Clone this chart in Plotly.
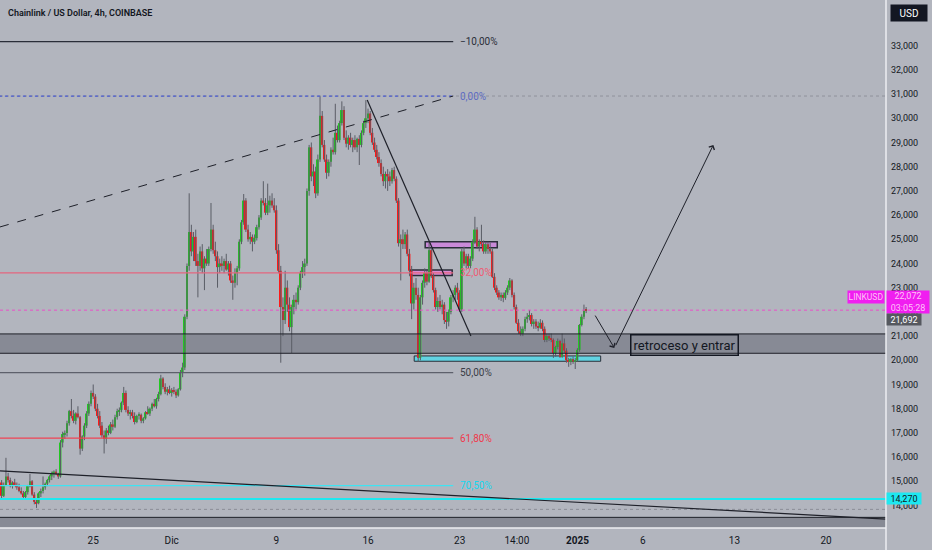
import pandas as pd
import plotly.graph_objects as go

# LINK/USD 4h candles from 18 Nov 2024
first_open = 14.95
closes = [
    14.40, 14.85, 15.20, 15.05, 14.80, 14.95,
    14.85, 14.75, 14.60, 14.50, 14.35, 14.55,
    14.80, 15.00, 14.45, 14.15, 14.10, 14.50,
    14.60, 14.75, 14.90, 15.05, 15.20, 15.30,
    15.40, 15.30, 15.20, 16.60, 16.95, 17.00,
    17.40, 17.90, 17.70, 17.50, 17.80, 17.65,
    16.35, 16.85, 17.30, 17.80, 18.20, 18.65,
    18.50, 18.00, 17.70, 17.30, 16.90, 16.75,
    17.10, 17.00, 17.35, 17.25, 17.65, 17.90,
    17.95, 18.25, 18.65, 17.95, 17.80, 17.85,
    17.70, 17.45, 17.70, 17.75, 17.50, 17.60,
    17.85, 17.80, 18.00, 18.20, 18.10, 18.40,
    18.60, 19.25, 18.90, 18.70, 18.80, 18.65,
    18.75, 18.70, 18.55, 18.80, 19.50, 19.70,
    21.80, 23.90, 25.30, 24.50, 25.10, 24.10,
    23.90, 24.50, 23.80, 24.20, 24.00, 24.60,
    25.40, 24.55, 24.30, 23.85, 24.00, 23.90,
    24.10, 23.75, 24.00, 23.30, 23.20, 23.60,
    23.80, 24.90, 25.70, 26.60, 25.40, 25.00,
    25.10, 24.90, 25.05, 25.50, 25.90, 26.60,
    26.50, 26.10, 26.40, 26.60, 26.40, 26.20,
    24.55, 23.70, 22.20, 21.66, 23.00, 22.30,
    21.37, 22.20, 22.50, 22.40, 23.00, 23.60,
    23.85, 24.00, 27.00, 28.80, 27.60, 27.80,
    26.90, 28.30, 30.10, 28.90, 28.30, 27.75,
    28.20, 28.70, 28.60, 29.40, 29.10, 29.80,
    30.34, 29.20, 28.95, 29.20, 28.90, 29.10,
    28.80, 29.15, 28.90, 29.40, 29.80, 30.00,
    30.20, 29.40, 29.00, 28.70, 28.40, 28.15,
    27.70, 27.40, 27.70, 27.60, 27.40, 27.86,
    27.50, 26.60, 24.84, 25.00, 24.80, 25.20,
    24.40, 23.70, 22.35, 23.00, 22.70, 20.10,
    22.60, 23.20, 23.60, 23.25, 24.55, 23.50,
    22.90, 22.20, 22.45, 22.20, 22.30, 21.66,
    21.60, 22.00, 22.60, 22.70, 23.00, 22.80,
    22.10, 24.50, 24.00, 24.30, 23.90, 24.20,
    24.90, 25.40, 24.70, 24.90, 24.80, 24.50,
    24.80, 24.60, 24.50, 23.45, 23.00, 22.80,
    22.60, 22.70, 22.58, 22.80, 23.00, 23.30,
    22.70, 22.20, 21.55, 21.20, 21.10, 21.30,
    21.70, 21.80, 21.87, 21.50, 21.60, 21.40,
    21.35, 21.55, 21.30, 20.84, 21.00, 20.90,
    20.84, 20.30, 20.55, 20.80, 20.14, 20.70,
    20.40, 20.00, 19.93, 20.05, 19.95, 20.00,
    20.43, 21.46, 21.80, 22.08, 22.07,
]
highs = [
    15.05, 14.95, 15.97, 15.35, 15.15, 15.00,
    15.10, 14.95, 14.90, 14.75, 14.60, 14.60,
    14.85, 15.30, 15.05, 14.55, 14.30, 14.55,
    14.70, 15.20, 14.95, 15.10, 15.25, 15.40,
    15.45, 15.50, 15.35, 16.70, 17.05, 17.10,
    17.50, 17.95, 18.40, 17.95, 17.85, 18.10,
    17.70, 16.90, 17.40, 17.90, 18.30, 18.75,
    19.00, 18.60, 18.20, 17.90, 17.45, 17.10,
    17.20, 17.30, 17.45, 17.55, 17.75, 18.00,
    18.05, 18.30, 18.90, 18.75, 18.10, 17.95,
    17.95, 17.85, 17.75, 17.85, 17.80, 17.65,
    17.90, 18.10, 18.05, 18.25, 18.40, 18.45,
    18.70, 19.40, 19.30, 19.05, 18.90, 18.95,
    18.85, 18.90, 18.80, 18.85, 19.60, 19.90,
    21.90, 24.00, 26.90, 25.60, 25.30, 25.40,
    24.40, 24.70, 24.80, 24.30, 24.60, 24.70,
    26.50, 25.60, 24.90, 24.50, 24.20, 24.30,
    24.20, 24.40, 24.10, 24.10, 23.50, 23.80,
    23.90, 25.00, 25.80, 26.87, 26.70, 25.60,
    25.30, 25.20, 25.20, 25.60, 26.00, 26.70,
    27.40, 26.70, 27.30, 26.80, 26.90, 26.70,
    26.40, 24.80, 23.90, 22.60, 23.70, 23.30,
    22.60, 22.30, 22.70, 22.80, 23.10, 23.70,
    24.10, 24.20, 27.10, 28.90, 29.00, 28.10,
    28.00, 28.50, 30.92, 30.30, 29.10, 28.50,
    28.30, 28.80, 29.20, 30.60, 29.70, 29.90,
    30.70, 30.50, 29.50, 29.30, 29.40, 29.20,
    29.30, 29.20, 29.30, 29.50, 29.90, 30.75,
    30.40, 30.30, 29.60, 29.20, 28.90, 28.60,
    28.30, 28.00, 27.80, 27.90, 27.80, 27.95,
    28.00, 27.60, 26.70, 25.20, 25.40, 25.30,
    25.40, 24.60, 23.90, 23.20, 23.40, 23.00,
    22.70, 23.30, 23.80, 23.70, 24.90, 24.70,
    23.60, 23.00, 22.60, 22.70, 22.50, 22.40,
    22.00, 22.10, 22.70, 22.90, 23.10, 23.20,
    22.90, 24.60, 24.70, 24.40, 24.40, 24.30,
    25.00, 25.93, 25.50, 25.00, 25.60, 24.95,
    24.90, 24.90, 24.85, 24.60, 23.60, 23.10,
    22.90, 22.80, 22.80, 22.90, 23.10, 23.40,
    23.35, 22.80, 22.30, 21.70, 21.40, 21.40,
    21.80, 21.95, 22.08, 21.95, 21.70, 21.70,
    21.60, 21.70, 21.65, 21.40, 21.10, 21.10,
    21.10, 20.90, 20.60, 20.90, 20.85, 21.10,
    20.90, 20.50, 20.10, 20.10, 20.15, 20.10,
    20.50, 21.50, 21.90, 22.30, 22.20,
]
lows = [
    14.30, 14.35, 14.80, 14.95, 14.75, 14.70,
    14.80, 14.65, 14.55, 14.45, 14.25, 14.30,
    14.45, 14.75, 14.40, 14.05, 13.90, 14.05,
    14.35, 14.50, 14.65, 14.80, 14.95, 15.05,
    15.15, 15.25, 15.10, 15.15, 16.40, 16.75,
    16.85, 17.30, 17.60, 17.40, 17.35, 17.60,
    16.10, 16.25, 16.70, 17.20, 17.70, 18.10,
    18.40, 17.90, 17.60, 17.20, 16.80, 16.15,
    16.55, 16.90, 16.95, 17.10, 17.20, 17.55,
    17.70, 17.85, 18.15, 17.85, 17.70, 17.55,
    17.60, 17.35, 17.40, 17.55, 17.40, 17.40,
    17.55, 17.75, 17.70, 17.90, 18.05, 18.00,
    18.30, 18.55, 18.80, 18.60, 18.55, 18.60,
    18.50, 18.60, 18.44, 18.50, 18.75, 19.30,
    19.60, 21.70, 23.70, 24.30, 24.10, 23.90,
    22.60, 23.70, 23.60, 22.90, 23.90, 23.90,
    24.50, 24.40, 24.10, 23.00, 23.60, 23.70,
    23.60, 23.70, 23.50, 23.20, 22.50, 23.00,
    23.10, 23.70, 24.80, 25.60, 25.30, 24.90,
    24.80, 24.50, 24.80, 24.95, 25.40, 25.80,
    26.40, 26.00, 26.00, 26.10, 26.30, 26.10,
    24.40, 23.60, 19.90, 21.00, 21.50, 22.00,
    21.20, 20.30, 21.90, 22.10, 22.30, 22.90,
    23.40, 23.50, 23.90, 26.80, 27.40, 27.20,
    26.70, 26.80, 28.20, 28.80, 28.20, 27.50,
    27.60, 28.00, 28.50, 28.50, 29.00, 29.00,
    29.70, 29.10, 28.80, 28.70, 28.80, 28.60,
    28.70, 28.60, 28.07, 28.80, 29.30, 29.60,
    29.80, 29.30, 28.90, 28.60, 28.30, 28.00,
    27.60, 27.20, 27.10, 27.00, 27.20, 27.30,
    27.40, 26.50, 24.70, 23.30, 24.60, 24.60,
    24.30, 23.50, 21.70, 22.10, 22.50, 19.95,
    20.00, 22.30, 23.00, 23.10, 23.20, 23.40,
    22.80, 22.10, 22.00, 22.10, 21.90, 21.50,
    21.30, 21.40, 21.90, 22.40, 22.50, 22.50,
    22.00, 22.00, 23.90, 23.80, 23.80, 23.80,
    24.10, 24.80, 24.60, 24.50, 24.70, 24.40,
    24.40, 24.40, 24.40, 23.40, 22.90, 22.70,
    22.50, 22.45, 22.40, 22.50, 22.70, 22.90,
    22.60, 22.10, 21.50, 21.10, 21.00, 21.00,
    21.20, 21.55, 21.65, 21.40, 21.30, 21.30,
    21.20, 21.30, 21.20, 20.75, 20.75, 20.80,
    20.75, 20.10, 20.15, 20.45, 20.10, 20.10,
    20.30, 19.90, 19.73, 19.80, 19.85, 19.64,
    19.95, 20.35, 21.40, 21.70, 21.95,
]

# fibonacci retracement levels drawn on the chart
fib_levels = [33.17, 30.92, 23.61, 19.49, 16.78, 14.82]
fib_labels = ['−10,00%', '0,00%', '32,00%', '50,00%', '61,80%', '70,50%']
fib_line_colors = ['#2a2e39', '#4a5bd0', '#e3667e', '#5d606b', '#ef4455', '#3fe3f2']
fib_text_colors = ['#2a2e39', '#5d6bc2', '#ef5a72', '#3a3d47', '#f0384b', '#14d8f0']

# horizontal zones / levels
zone_low, zone_high = 20.29, 21.09
bottom_zone_top = 13.51
cyan_level = 14.27
last_price = 22.072
prev_price = 21.692
dotted_low = 13.84

xtick_vals = ['2024-11-18', '2024-11-25', '2024-12-01', '2024-12-09', '2024-12-16',
              '2024-12-23', '2024-12-27 09:00', '2025-01-01', '2025-01-06',
              '2025-01-13', '2025-01-20']
xtick_text = ['18', '25', 'Dic', '9', '16', '23', '14:00', '<b>2025</b>', '6', '13', '20']
ytick_vals = list(range(14, 34))

X_START = '2024-11-17 21:04'
X_END = '2025-01-24 13:55'
FIB_END = '2024-12-22 12:15'
FIB_LABEL_X = '2024-12-22 21:20'

FONT = 'Roboto, Arial, sans-serif'
BG = '#b2b5be'
GREEN = '#22c922'
RED = '#ff1818'
WICK = '#5a5d66'

times = pd.date_range('2024-11-18 00:00', periods=len(closes), freq='4h')
opens = [first_open] + closes[:-1]

wick_x, wick_y = [], []
for t, lo, hi in zip(times, lows, highs):
    wick_x += [t, t, None]
    wick_y += [lo, hi, None]

body_base = [min(o, c) for o, c in zip(opens, closes)]
body_h = [max(abs(c - o), 0.04) for o, c in zip(opens, closes)]
body_col = [GREEN if c >= o else RED for o, c in zip(opens, closes)]

fig = go.Figure()
fig.add_trace(go.Scatter(x=wick_x, y=wick_y, mode='lines',
                         line=dict(color=WICK, width=1), hoverinfo='skip'))
fig.add_trace(go.Bar(x=times, y=body_h, base=body_base, marker_color=body_col,
                     marker_line_width=0, width=3.5 * 3600 * 1000))

shapes = []
# dark zones
shapes.append(dict(type='rect', xref='paper', x0=0, x1=1, yref='y', y0=zone_low, y1=zone_high,
                   fillcolor='#878a95', line_width=0, layer='below'))
shapes.append(dict(type='rect', xref='paper', x0=0, x1=1, yref='y', y0=10, y1=bottom_zone_top,
                   fillcolor='#878a95', line_width=0, layer='below'))
for lvl in [zone_low, zone_high, bottom_zone_top]:
    shapes.append(dict(type='line', xref='paper', x0=0, x1=1, yref='y', y0=lvl, y1=lvl,
                       line=dict(color='#1e2029', width=1)))

# boxes around the recent range
shapes.append(dict(type='rect', x0='2024-12-19 12:40', x1='2025-01-02 18:40', y0=19.96, y1=20.18,
                   fillcolor='#62d3e2', line=dict(color='#2a2e39', width=1), layer='below'))
shapes.append(dict(type='rect', x0='2024-12-20 08:50', x1='2024-12-25 21:00', y0=24.65, y1=24.90,
                   fillcolor='#c98ad8', line=dict(color='#2a2e39', width=1.5), layer='below'))
shapes.append(dict(type='rect', x0='2024-12-19 05:20', x1='2024-12-22 10:20', y0=23.50, y1=23.73,
                   fillcolor='#dc8ad4', line=dict(color='#2a2e39', width=1.5), layer='below'))

# full width helper lines
shapes.append(dict(type='line', xref='paper', x0=0, x1=1, yref='y', y0=fib_levels[1], y1=fib_levels[1],
                   line=dict(color='#8f929b', width=1, dash='dot')))
shapes.append(dict(type='line', xref='paper', x0=0, x1=1, yref='y', y0=dotted_low, y1=dotted_low,
                   line=dict(color='#8a8d96', width=1, dash='dot')))
shapes.append(dict(type='line', xref='paper', x0=0, x1=1, yref='y', y0=last_price, y1=last_price,
                   line=dict(color='#ea4fc8', width=1, dash='dot')))
shapes.append(dict(type='line', xref='paper', x0=0, x1=1, yref='y', y0=cyan_level, y1=cyan_level,
                   line=dict(color='#1ee8f0', width=2)))

# fib lines
for lvl, col in zip(fib_levels, fib_line_colors):
    shapes.append(dict(type='line', x0='2024-11-10', x1=FIB_END, y0=lvl, y1=lvl,
                       line=dict(color=col, width=1.2, dash='dot' if lvl == fib_levels[1] else 'solid')))

# trend lines
shapes.append(dict(type='line', x0=X_START, x1=FIB_END, y0=25.51, y1=30.92,
                   line=dict(color='#1e2029', width=1, dash='dash')))
shapes.append(dict(type='line', x0='2024-12-15 22:30', x1='2024-12-23 20:40', y0=30.76, y1=21.00,
                   line=dict(color='#1e2029', width=1.2)))
shapes.append(dict(type='line', x0=X_START, x1=X_END, y0=15.43, y1=13.44,
                   line=dict(color='#1e2029', width=1.2)))

# pane separators
shapes.append(dict(type='line', xref='paper', x0=0, x1=1, yref='paper', y0=0, y1=0,
                   line=dict(color='#eceef2', width=1.5)))
shapes.append(dict(type='line', xref='paper', x0=1, x1=1, yref='paper', y0=-0.05, y1=1,
                   line=dict(color='#eceef2', width=1.5)))

ann = []
ann.append(dict(xref='paper', yref='paper', x=6 / 886, y=1 - 13 / 528, xanchor='left', yanchor='middle',
                text='Chainlink / US Dollar, 4h, COINBASE', showarrow=False,
                font=dict(family=FONT, size=9, color='#131722', weight=600)))
for lvl, lab, col in zip(fib_levels, fib_labels, fib_text_colors):
    ann.append(dict(x=FIB_LABEL_X, y=lvl, xanchor='left', yanchor='middle', text=lab,
                    showarrow=False, font=dict(family=FONT, size=10, color=col)))

ann.append(dict(x='2025-01-09 04:00', y=20.65, xanchor='center', yanchor='middle',
                text='retroceso y entrar', showarrow=False,
                font=dict(family=FONT, size=13, color='#131722'),
                bordercolor='#131722', borderwidth=1.5, borderpad=2))
# arrows
ann.append(dict(x='2025-01-03 19:40', y=20.51, ax='2025-01-02 07:00', ay=21.91, axref='x', ayref='y',
                showarrow=True, arrowhead=4, arrowsize=1.2, arrowwidth=1, arrowcolor='#1e2029', text=''))
ann.append(dict(x='2025-01-11 09:20', y=28.90, ax='2025-01-03 21:00', ay=20.56, axref='x', ayref='y',
                showarrow=True, arrowhead=4, arrowsize=1.2, arrowwidth=1, arrowcolor='#1e2029', text=''))

# price scale labels
scale_lab = dict(showarrow=False, xanchor='center', yanchor='middle', borderpad=0)
ann.append(dict(xref='paper', yref='paper', x=909 / 886, y=1 - 13 / 528, text='USD',
                bgcolor='#131722', width=36, height=16,
                font=dict(family=FONT, size=10, color='#ffffff'), **scale_lab))
ann.append(dict(xref='paper', yref='paper', x=865.5 / 886, y=1 - 297 / 528, text='LINKUSD',
                bgcolor='#f01ef0', width=36, height=12,
                font=dict(family=FONT, size=8.5, color='#ffc2f7'), **scale_lab))
ann.append(dict(xref='paper', yref='paper', x=907.5 / 886, y=1 - 302 / 528,
                text=f'{last_price:.3f}'.replace('.', ',') + '<br>03:05:28',
                bgcolor='#f01ef0', width=42, height=22,
                font=dict(family=FONT, size=9, color='#ffc2f7'), **scale_lab))
ann.append(dict(xref='paper', yref='y', x=904 / 886, y=prev_price,
                text=f'{prev_price:.3f}'.replace('.', ','),
                bgcolor='#55585f', width=34, height=11,
                font=dict(family=FONT, size=9, color='#ffffff'), **scale_lab))
ann.append(dict(xref='paper', yref='y', x=904 / 886, y=cyan_level,
                text=f'{cyan_level:.3f}'.replace('.', ','),
                bgcolor='#1ee8f0', width=34, height=11,
                font=dict(family=FONT, size=9, color='#131722'), **scale_lab))

fig.update_layout(
    width=932, height=550,
    margin=dict(l=0, r=46, t=0, b=22),
    paper_bgcolor=BG, plot_bgcolor=BG,
    showlegend=False, separators=',.',
    font=dict(family=FONT, color='#131722'),
    shapes=shapes, annotations=ann,
    xaxis=dict(type='date', range=[X_START, X_END], tickvals=xtick_vals, ticktext=xtick_text,
               showgrid=False, zeroline=False, showline=False, ticks='', ticklabelstandoff=5,
               tickfont=dict(family=FONT, size=10, color='#131722'), fixedrange=True),
    yaxis=dict(side='right', range=[13.07, 34.888], tickvals=ytick_vals, tickformat='.3f',
               showgrid=False, zeroline=False, showline=False, ticks='', ticklabelstandoff=4,
               tickfont=dict(family=FONT, size=9, color='#131722'), fixedrange=True),
)

fig.write_html('out.html', config={'displayModeBar': False},
               post_script="document.body.style.margin = '0';")
